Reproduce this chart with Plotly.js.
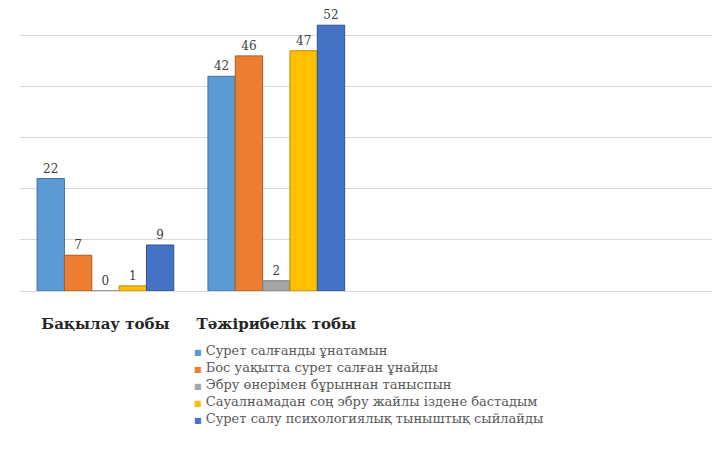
<!DOCTYPE html>
<html>
<head>
<meta charset="utf-8">
<script src="https://cdn.plot.ly/plotly-3.0.1.min.js"></script>
<style>html,body{margin:0;padding:0;background:#fff;}#chart{width:712px;height:450px;}</style>
</head>
<body>
<div id="chart"></div>
<script>
const categories = ["Бақылау тобы", "Тәжірибелік тобы"];
const seriesNames = [
  "Сурет салғанды ұнатамын",
  "Бос уақытта сурет салған ұнайды",
  "Эбру өнерімен бұрыннан таныспын",
  "Сауалнамадан соң эбру жайлы іздене бастадым",
  "Сурет салу психологиялық тыныштық сыйлайды"
];
const s1 = [22, 42];
const s2 = [7, 46];
const s3 = [0, 2];
const s4 = [1, 47];
const s5 = [9, 52];
const seriesValues = [s1, s2, s3, s4, s5];
const seriesColors = ["#5B9BD5", "#ED7D31", "#A5A5A5", "#FFC000", "#4472C4"];
const lineColors = ["#41719C", "#AE5A21", "#787878", "#BC8C00", "#2F528F"];
const serif = "'DejaVu Serif', 'Liberation Serif', serif";

const traces = seriesValues.map((vals, i) => ({
  type: "bar",
  name: seriesNames[i],
  x: categories,
  y: vals,
  text: vals.map(String),
  textposition: "outside",
  cliponaxis: false,
  showlegend: false,
  textfont: {family: serif, size: 12, color: "#404040"},
  marker: {color: seriesColors[i], line: {color: lineColors[i], width: 1}}
}));

// legend built as text entries below the plot (plot area spans y 15..291 px)
const legendAnnotations = seriesNames.map((name, i) => ({
  xref: "paper", yref: "paper",
  x: 0.248, y: -0.217 - i * 0.0616,
  xanchor: "left", yanchor: "middle",
  showarrow: false,
  align: "left",
  text: '<span style="color:' + seriesColors[i] + ';font-size:8px">■</span> ' + name,
  font: {family: serif, size: 13, color: "#595959"}
}));

const layout = {
  width: 712, height: 450,
  margin: {l: 20, r: 0, t: 15, b: 159},
  paper_bgcolor: "#ffffff",
  plot_bgcolor: "#ffffff",
  bargap: 0.2,
  bargroupgap: 0,
  showlegend: false,
  annotations: legendAnnotations,
  xaxis: {
    type: "category",
    range: [-0.5, 3.55],
    showgrid: false,
    zeroline: false,
    showline: false,
    ticks: "",
    tickangle: 0,
    ticklabelstandoff: 22,
    tickfont: {family: serif, size: 15, color: "#262626", weight: "bold"}
  },
  yaxis: {
    range: [0, 54],
    dtick: 10,
    showticklabels: false,
    showgrid: true,
    gridcolor: "#d9d9d9",
    gridwidth: 1,
    zeroline: true,
    zerolinecolor: "#d9d9d9",
    showline: false,
    ticks: ""
  }
};

Plotly.newPlot("chart", traces, layout, {displayModeBar: false, staticPlot: true});
</script>
</body>
</html>
